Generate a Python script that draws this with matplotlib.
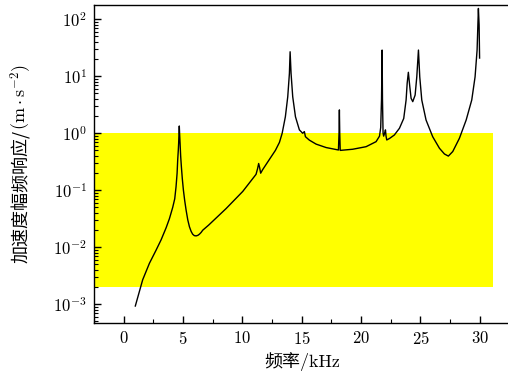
import numpy as np
import matplotlib
matplotlib.use('Agg')
import matplotlib.pyplot as plt
from matplotlib.ticker import MultipleLocator

# Fonts: Computer Modern look for numbers, CJK fallback for Chinese
plt.rcParams['font.family'] = ['cmr10', 'Noto Sans CJK SC', 'DejaVu Sans']
plt.rcParams['mathtext.fontset'] = 'cm'
plt.rcParams['axes.formatter.use_mathtext'] = True
plt.rcParams['axes.unicode_minus'] = False

# Frequency response (kHz, log10 of amplitude)
freq = [0.98, 1.60, 2.17, 2.73, 3.15, 3.57, 3.85, 4.13, 4.30, 4.41, 4.50,
        4.55, 4.60, 4.63, 4.66, 4.685, 4.71, 4.75, 4.80, 4.86, 4.94, 5.03,
        5.14, 5.26, 5.40, 5.54, 5.68, 5.81, 5.95, 6.10, 6.25, 6.38, 6.52,
        6.66, 7.16, 8.63, 10.03, 11.15, 11.28, 11.37, 11.45, 11.54, 11.70,
        12.27, 12.78, 13.12, 13.35, 13.62, 13.82, 13.96, 14.02, 14.10, 14.24,
        14.47, 14.80, 15.08, 15.22, 15.31, 15.64, 16.21, 17.05, 18.09, 18.14,
        18.17, 18.20, 18.24, 19.29, 20.42, 21.26, 21.55, 21.65, 21.72, 21.77,
        21.80, 21.85, 21.90, 22.02, 22.05, 22.10, 22.16, 22.40, 22.80, 23.23,
        23.59, 23.79, 23.88, 23.98, 24.10, 24.21, 24.35, 24.55, 24.69, 24.83,
        24.94, 25.11, 25.47, 26.03, 26.60, 27.02, 27.35, 27.72, 28.28, 28.85,
        29.32, 29.60, 29.77, 29.88, 29.94, 29.98]
log_amp = [-3.03, -2.57, -2.28, -2.05, -1.87, -1.66, -1.50, -1.30, -1.15, -0.94, -0.70,
           -0.47, -0.30, -0.175, 0.0, 0.128, 0.0, -0.175, -0.40, -0.585, -0.80, -0.995,
           -1.18, -1.35, -1.52, -1.64, -1.72, -1.77, -1.795, -1.80, -1.79, -1.77, -1.74,
           -1.70, -1.61, -1.32, -1.02, -0.72, -0.62, -0.53, -0.60, -0.70, -0.64,
           -0.46, -0.30, -0.16, 0.0, 0.29, 0.64, 1.05, 1.43, 1.05, 0.64,
           0.29, 0.06, 0.0, 0.03, -0.06, -0.12, -0.19, -0.25, -0.293, 0.0,
           0.41, 0.0, -0.30, -0.28, -0.235, -0.147, -0.05, 0.10, 0.60, 1.46,
           0.60, 0.0, -0.05, 0.03, 0.06, -0.05, -0.117, -0.09, -0.03, 0.088,
           0.26, 0.584, 0.877, 1.07, 0.82, 0.614, 0.555, 0.67, 0.99, 1.46,
           0.99, 0.584, 0.233, -0.06, -0.263, -0.363, -0.40, -0.32, -0.088, 0.233,
           0.584, 0.99, 1.46, 2.19, 1.90, 1.32]
amp = [10 ** v for v in log_amp]

# Shaded band
band_x = [-2.5, 31.1]
band_low, band_high = 2e-3, 1.0

fig = plt.figure(figsize=(5.08, 3.83), dpi=100)
ax = fig.add_axes([94 / 508, 60 / 383, 415.5 / 508, 318 / 383])

ax.fill_between(band_x, band_low, band_high, color='#ffff00', linewidth=0, zorder=1)
ax.plot(freq, amp, color='black', linewidth=1.0, zorder=2)

ax.set_yscale('log')
ax.set_xlim(-2.5, 32.5)
ax.set_ylim(4.7e-4, 1.78e2)
ax.xaxis.set_major_locator(MultipleLocator(5))
ax.xaxis.set_minor_locator(MultipleLocator(2.5))
ax.tick_params(which='both', direction='in', top=False, right=False, labelsize=12, pad=5)
ax.tick_params(which='major', length=5, width=1)
ax.tick_params(which='minor', length=3, width=0.8)
for s in ax.spines.values():
    s.set_linewidth(1.0)

ax.set_xlabel('频率/kHz', fontsize=13, labelpad=4)

# y label in two pieces: Chinese text, then the unit in math text
ylab_cn = '加速度幅频响应/'
ylab_unit = r'$(\mathrm{m}\cdot\mathrm{s}^{-2})$'
x0 = 27 / 508
t1 = fig.text(x0, 0.5, ylab_cn, rotation=90, rotation_mode='anchor',
              ha='left', va='baseline', fontsize=13,
              family=['Noto Sans CJK SC', 'DejaVu Sans'])
t2 = fig.text(x0, 0.5, ylab_unit, rotation=90, rotation_mode='anchor',
              ha='left', va='baseline', fontsize=13)
r = fig.canvas.get_renderer()
h1 = t1.get_window_extent(r).height
h2 = t2.get_window_extent(r).height
start = (383 - 164) - (h1 + h2) / 2
t1.set_position((x0, start / 383))
t2.set_position((x0, (start + h1) / 383))

fig.savefig('out.png', dpi=100)
